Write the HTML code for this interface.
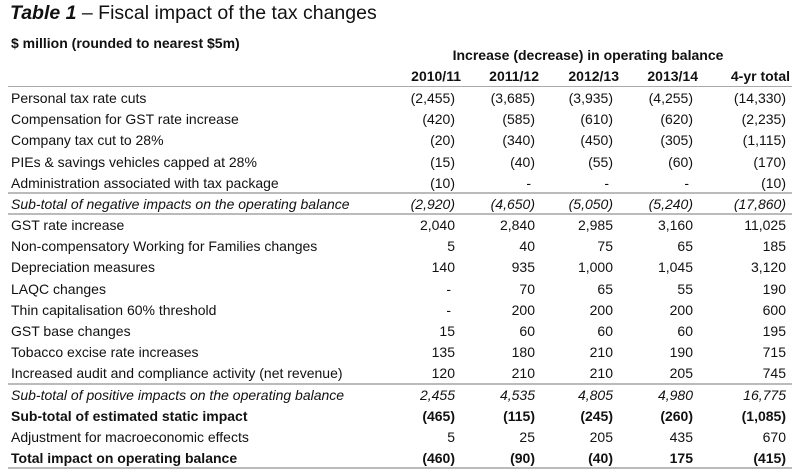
<!DOCTYPE html>
<html><head><meta charset="utf-8">
<style>
body{margin:0;background:#fff;}
#root{position:relative;width:800px;height:476px;overflow:hidden;font-family:"Liberation Sans",Arial,sans-serif;color:#111;}
.t{position:absolute;white-space:nowrap;font-size:14px;line-height:16px;}
.r{text-align:right;}
.hl{position:absolute;left:8px;width:784px;height:1px;background:#aaa;}
.hl2{position:absolute;left:8px;width:784px;height:2px;background:#bbb;}
</style></head><body>
<div id="root">
<div class="t" style="left:10px;top:2px;font-size:19.5px;line-height:22px;"><b><i>Table 1</i></b> – Fiscal impact of the tax changes</div>
<div class="t" style="left:11px;top:35px;font-weight:bold;">$ million (rounded to nearest $5m)</div>
<div class="t" style="left:420px;top:47px;width:336px;text-align:center;font-weight:bold;">Increase (decrease) in operating balance</div>
<div class="hl" style="top:86px"></div>
</div>
<script>
const years = ["2010/11","2011/12","2012/13","2013/14","4-yr total"];
const labels = ["Personal tax rate cuts","Compensation for GST rate increase","Company tax cut to 28%","PIEs & savings vehicles capped at 28%","Administration associated with tax package","Sub-total of negative impacts on the operating balance","GST rate increase","Non-compensatory Working for Families changes","Depreciation measures","LAQC changes","Thin capitalisation 60% threshold","GST base changes","Tobacco excise rate increases","Increased audit and compliance activity (net revenue)","Sub-total of positive impacts on the operating balance","Sub-total of estimated static impact","Adjustment for macroeconomic effects","Total impact on operating balance"];
const v2010 = ["(2,455)","(420)","(20)","(15)","(10)","(2,920)","2,040","5","140","-","-","15","135","120","2,455","(465)","5","(460)"];
const v2011 = ["(3,685)","(585)","(340)","(40)","-","(4,650)","2,840","40","935","70","200","60","180","210","4,535","(115)","25","(90)"];
const v2012 = ["(3,935)","(610)","(450)","(55)","-","(5,050)","2,985","75","1,000","65","200","60","210","210","4,805","(245)","205","(40)"];
const v2013 = ["(4,255)","(620)","(305)","(60)","-","(5,240)","3,160","65","1,045","55","200","60","190","205","4,980","(260)","435","175"];
const vTotal = ["(14,330)","(2,235)","(1,115)","(170)","(10)","(17,860)","11,025","185","3,120","190","600","195","715","745","16,775","(1,085)","670","(415)"];
const styles = ["","","","","","i","","","","","","","","","i","b","","b"];
const root=document.getElementById('root');
const headRight=[461,539,619,698,790];
const colRight=[455,535,613,693,786];
const cols=[v2010,v2011,v2012,v2013,vTotal];
years.forEach((y,i)=>{
  const d=document.createElement('div');
  d.className='t r';d.style.fontWeight='bold';
  d.style.left=(headRight[i]-100)+'px';d.style.width='100px';d.style.top='68px';
  d.textContent=y;
  
  
  root.appendChild(d);
});
const rowH=21.18, top0=90;
labels.forEach((lab,r)=>{
  const ty=top0+r*rowH;
  const st=styles[r];
  const d=document.createElement('div');
  d.className='t';d.style.left='11px';d.style.top=ty+'px';
  if(st.includes('i'))d.style.fontStyle='italic';
  if(st.includes('b'))d.style.fontWeight='bold';
  d.textContent=lab;
  
  
  root.appendChild(d);
  cols.forEach((c,ci)=>{
    const v=c[r];
    const e=document.createElement('div');
    e.className='t r';
    let right=colRight[ci];
    if(v==='-')right-=4;
    e.style.left=(right-100)+'px';e.style.width='100px';e.style.top=ty+'px';
    if(st.includes('i'))e.style.fontStyle='italic';
    if(st.includes('b'))e.style.fontWeight='bold';
    e.textContent=v;
    
    
    root.appendChild(e);
  });
});
[192,213,383,467].forEach(y=>{
  const l=document.createElement('div');
  l.className='hl2';l.style.top=y+'px';
  
  
  root.appendChild(l);
});
</script>
</body></html>
